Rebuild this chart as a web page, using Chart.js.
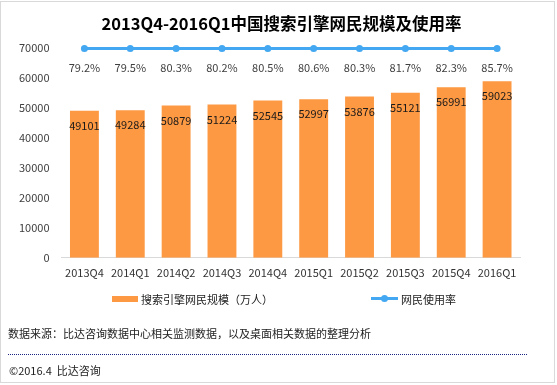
<!DOCTYPE html>
<html>
<head>
<meta charset="utf-8">
<script src="https://cdn.jsdelivr.net/npm/chart.js@4.4.0/dist/chart.umd.min.js"></script>
<style>
  html, body { margin:0; padding:0; background:#fff; }
  body { width:557px; height:385px; position:relative; overflow:hidden; font-family:'Noto Sans CJK SC','Noto Sans',sans-serif; }
  #frame { position:absolute; left:0; top:1px; width:553px; height:380px; border:1px solid #d9d9d9; }
  #wrap { position:absolute; left:0; top:0; width:557px; height:385px; }
  .leg { position:absolute; top:290px; height:17px; display:flex; align-items:center; font-size:11px; color:#222; white-space:nowrap; }
  .sw { margin-right:3px; position:relative; }
  #src { position:absolute; left:8px; top:325px; font-size:11px; color:#222; }
  #dots { position:absolute; left:8px; top:354px; width:519px; border-top:1px dotted #1a2380; }
  #copy { position:absolute; left:9px; top:362px; font-size:11px; color:#222; }
</style>
</head>
<body>
<div id="frame"></div>
<div id="wrap"><canvas id="chart" width="557" height="385"></canvas></div>
<div id="legend"></div>
<div id="src">数据来源：比达咨询数据中心相关监测数据，以及桌面相关数据的整理分析</div>
<div id="dots"></div>
<div id="copy">©2016.4&nbsp;&nbsp;比达咨询</div>
<script>
const quarters = ["2013Q4","2014Q1","2014Q2","2014Q3","2014Q4","2015Q1","2015Q2","2015Q3","2015Q4","2016Q1"];
const users = [49101, 49284, 50879, 51224, 52545, 52997, 53876, 55121, 56991, 59023];
const rates = [79.2, 79.5, 80.3, 80.2, 80.5, 80.6, 80.3, 81.7, 82.3, 85.7];
const seriesNames = ["搜索引擎网民规模（万人）", "网民使用率"];

const barColor = "#fd9943";
const lineColor = "#43a8f1";
const FONT = "'Noto Sans CJK SC','Noto Sans',sans-serif";

Chart.defaults.font.family = FONT;
Chart.defaults.font.size = 11;

const valueLabels = {
  id: "valueLabels",
  afterDatasetsDraw(chart){
    const ctx = chart.ctx;
    ctx.save();
    ctx.font = "11px " + FONT;
    ctx.textAlign = "center";
    ctx.textBaseline = "middle";
    chart.getDatasetMeta(0).data.forEach((bar, i) => {
      ctx.fillStyle = "#1a1a1a";
      ctx.fillText(users[i], bar.x, bar.y + 15);
    });
    chart.getDatasetMeta(1).data.forEach((pt, i) => {
      ctx.fillStyle = "#404040";
      ctx.fillText(rates[i].toFixed(1) + "%", pt.x, pt.y + 19);
    });
    ctx.restore();
  }
};

const chart = new Chart(document.getElementById("chart"), {
  type: "bar",
  data: {
    labels: quarters,
    datasets: [
      { label: seriesNames[0], data: users, backgroundColor: barColor, yAxisID: "y",
        categoryPercentage: 1, barPercentage: 0.63, order: 2 },
      { type: "line", label: seriesNames[1], data: rates, yAxisID: "y2", borderColor: lineColor,
        backgroundColor: lineColor, borderWidth: 3, pointRadius: 3.5, pointBorderWidth: 0,
        clip: false, order: 1 },
    ]
  },
  options: {
    responsive: false, animation: false,
    layout: { padding: { left: 6, right: 0, top: 0, bottom: 98 } },
    scales: {
      x: {
        grid: { display: false, drawTicks: false },
        border: { display: true, color: "#d9d9d9", width: 1 },
        ticks: { color: "#333", padding: 8, maxRotation: 0 }
      },
      y: {
        min: 0, max: 70000,
        grid: { display: false, drawTicks: false },
        border: { display: false },
        ticks: { stepSize: 10000, color: "#404040", padding: 12, callback: v => String(v) },
        afterFit: s => { s.width = 55.5; }
      },
      y2: {
        position: "right", min: -20000, max: 100,
        grid: { display: false, drawTicks: false },
        border: { display: false },
        ticks: { display: false },
        afterFit: s => { s.width = 37; }
      }
    },
    plugins: {
      legend: { display: false },
      tooltip: { enabled: false },
      title: {
        display: true, text: "2013Q4-2016Q1中国搜索引擎网民规模及使用率",
        color: "#000", font: { size: 16.5, weight: "bold", family: FONT },
        padding: { top: 14.1, bottom: 14.4 }
      }
    }
  },
  plugins: [valueLabels]
});

// legend built from the chart's datasets
const legendBox = document.getElementById("legend");
const legendLeft = [112, 371];
chart.data.datasets.forEach((ds, i) => {
  const item = document.createElement("div");
  item.className = "leg";
  item.style.left = legendLeft[i] + "px";
  const sw = document.createElement("span");
  sw.className = "sw";
  if (ds.type === "line") {
    sw.style.cssText = "display:inline-block;width:27px;height:3px;background:" + ds.borderColor + ";margin-right:3px;position:relative;";
    const dot = document.createElement("span");
    dot.style.cssText = "position:absolute;left:10px;top:-2px;width:7px;height:7px;border-radius:50%;background:" + ds.borderColor + ";";
    sw.appendChild(dot);
  } else {
    sw.style.cssText = "display:inline-block;width:26px;height:6px;background:" + ds.backgroundColor + ";margin-right:3px;";
  }
  item.appendChild(sw);
  item.appendChild(document.createTextNode(ds.label));
  legendBox.appendChild(item);
});
</script>
</body>
</html>
